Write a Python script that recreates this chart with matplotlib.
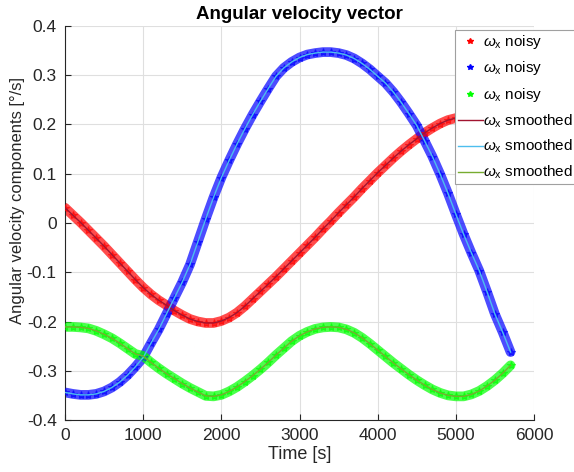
import matplotlib
matplotlib.use("Agg")
import matplotlib.pyplot as plt
from matplotlib.lines import Line2D

plt.rcParams['font.family'] = ['Liberation Sans', 'DejaVu Sans']
plt.rcParams['mathtext.fontset'] = 'custom'
plt.rcParams['mathtext.rm'] = 'Liberation Sans'
plt.rcParams['mathtext.it'] = 'Liberation Sans:italic'

# ---- data ----
time_s = [0, 100, 200, 300, 400, 500, 600, 700, 800, 900,
          1000, 1100, 1200, 1300, 1400, 1500, 1600, 1700, 1800, 1900,
          2000, 2100, 2200, 2300, 2400, 2500, 2600, 2700, 2800, 2900,
          3000, 3100, 3200, 3300, 3400, 3500, 3600, 3700, 3800, 3900,
          4000, 4100, 4200, 4300, 4400, 4500, 4600, 4700, 4800, 4900,
          5000, 5100, 5200, 5300, 5400, 5500, 5600, 5700]

omega_x = [0.031, 0.016, 0.001, -0.015, -0.031, -0.047, -0.064, -0.081, -0.098, -0.115,
           -0.131, -0.145, -0.157, -0.167, -0.178, -0.187, -0.195, -0.200, -0.203, -0.203,
           -0.199, -0.192, -0.182, -0.169, -0.154, -0.139, -0.124, -0.109, -0.093, -0.077,
           -0.061, -0.045, -0.029, -0.012, 0.004, 0.021, 0.037, 0.053, 0.070, 0.086,
           0.102, 0.117, 0.132, 0.146, 0.159, 0.171, 0.183, 0.193, 0.202, 0.209,
           0.213, 0.215, 0.215, 0.213, 0.209, 0.203, 0.196, 0.188]

omega_y = [-0.344, -0.347, -0.349, -0.349, -0.347, -0.342, -0.334, -0.323, -0.309, -0.292,
           -0.273, -0.244, -0.216, -0.184, -0.152, -0.120, -0.084, -0.038, 0.008, 0.052,
           0.092, 0.127, 0.160, 0.191, 0.220, 0.247, 0.273, 0.298, 0.315, 0.327,
           0.336, 0.342, 0.345, 0.347, 0.347, 0.345, 0.341, 0.334, 0.324, 0.312,
           0.298, 0.284, 0.266, 0.245, 0.222, 0.198, 0.167, 0.135, 0.099, 0.060,
           0.018, -0.023, -0.061, -0.097, -0.140, -0.185, -0.222, -0.262]

omega_z = [-0.211, -0.211, -0.212, -0.214, -0.219, -0.226, -0.234, -0.244, -0.255, -0.266,
           -0.270, -0.283, -0.295, -0.306, -0.316, -0.326, -0.335, -0.343, -0.351, -0.352,
           -0.349, -0.342, -0.333, -0.322, -0.310, -0.297, -0.283, -0.268, -0.254, -0.240,
           -0.229, -0.221, -0.215, -0.212, -0.211, -0.212, -0.216, -0.223, -0.233, -0.245,
           -0.258, -0.271, -0.284, -0.296, -0.308, -0.319, -0.329, -0.338, -0.345, -0.350,
           -0.352, -0.352, -0.348, -0.341, -0.331, -0.319, -0.305, -0.289]

series_values = [omega_x, omega_y, omega_z]
noisy_labels = [r'$\omega_{\mathrm{x}}$ noisy'] * 3
smooth_labels = [r'$\omega_{\mathrm{x}}$ smoothed'] * 3
x_ticks = [0, 1000, 2000, 3000, 4000, 5000, 6000]
y_ticks = [-0.4, -0.3, -0.2, -0.1, 0, 0.1, 0.2, 0.3, 0.4]
y_tick_labels = ['-0.4', '-0.3', '-0.2', '-0.1', '0', '0.1', '0.2', '0.3', '0.4']

noisy_colors = ['#FF0000', '#0000FF', '#00FF00']
smooth_colors = ['#A2142F', '#4DBEEE', '#77AC30']

fig = plt.figure(figsize=(5.74, 4.72), dpi=100)
ax = fig.add_axes([65/574, 1-420/472, (534-65)/574, (420-26)/472])

for vals, c in zip(series_values, noisy_colors):
    ax.plot(time_s, vals, '-', color=c, lw=7, alpha=0.7, solid_capstyle='round', zorder=2)
    ax.plot(time_s, vals, '*', color=c, ms=6, mew=0.8, ls='none', alpha=0.6, zorder=3)

for vals, c in zip(series_values, smooth_colors):
    ax.plot(time_s, vals, '-', color=c, lw=1.0, zorder=4)

ax.set_xlim(0, 6000)
ax.set_ylim(-0.4, 0.4)
ax.set_xticks(x_ticks)
ax.set_yticks(y_ticks)
ax.set_yticklabels(y_tick_labels)
ax.grid(True, color='#DFDFDF', lw=0.8)
ax.set_axisbelow(True)
for s in ['top', 'right']:
    ax.spines[s].set_visible(False)
for s in ['left', 'bottom']:
    ax.spines[s].set_color('#262626')
    ax.spines[s].set_linewidth(0.8)
ax.tick_params(direction='in', length=4, width=0.8, colors='#262626', labelsize=12.5, pad=6)

ax.set_title('Angular velocity vector', fontsize=13.5, fontweight='bold', pad=5)
ax.set_xlabel('Time [s]', fontsize=13, color='#262626', labelpad=2)
ax.set_ylabel('Angular velocity components [°/s]', fontsize=12, color='#262626', va='center')
ax.yaxis.set_label_coords((17.5 - 65) / 469, (420 - 201) / 394)

handles = []
for c in noisy_colors:
    handles.append(Line2D([], [], marker='*', ms=4, color=c, ls='none'))
for c in smooth_colors:
    handles.append(Line2D([], [], color=c, lw=1.0))
labels = noisy_labels + smooth_labels
leg = fig.legend(handles, labels, loc='upper left', bbox_to_anchor=(455/574, 1-30/472),
                 bbox_transform=fig.transFigure, fontsize=11, handlelength=1.6,
                 handletextpad=0.05, labelspacing=0.55, borderpad=0.2, borderaxespad=0,
                 fancybox=False, framealpha=1, edgecolor='#A0A0A0')
leg.get_frame().set_linewidth(0.8)

fig.savefig('out.png', dpi=100)
